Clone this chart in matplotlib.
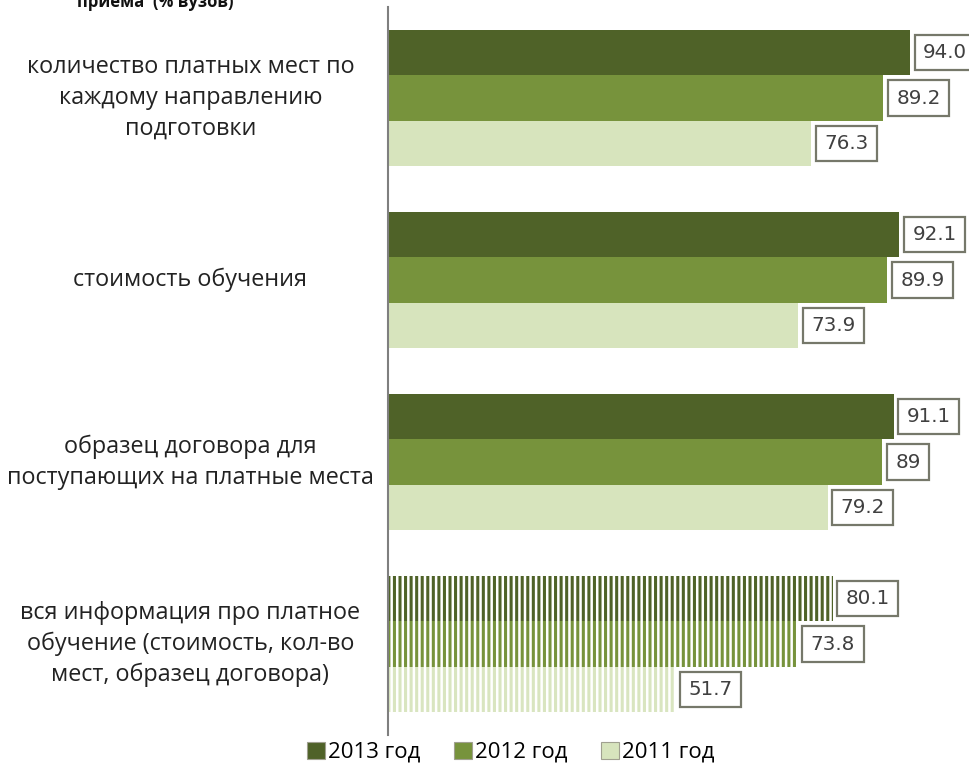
import numpy as np
import matplotlib
matplotlib.use("Agg")
import matplotlib.pyplot as plt
from matplotlib.patches import Patch

plt.rcParams['font.family'] = ['Open Sans', 'DejaVu Sans']
plt.rcParams['hatch.linewidth'] = 1.8

categories = ['количество платных мест по\nкаждому направлению\nподготовки',
              'стоимость обучения',
              'образец договора для\nпоступающих на платные места',
              'вся информация про платное\nобучение (стоимость, кол-во\nмест, образец договора)']
years = ['2013 год', '2012 год', '2011 год']
v2013 = [94.0, 92.1, 91.1, 80.1]
v2012 = [89.2, 89.9, 89.0, 73.8]
v2011 = [76.3, 73.9, 79.2, 51.7]
lab2013 = ['94.0', '92.1', '91.1', '80.1']
lab2012 = ['89.2', '89.9', '89', '73.8']
lab2011 = ['76.3', '73.9', '79.2', '51.7']

colors = ['#4f6228', '#77933c', '#d7e4bd']
hatch_colors = ['#4f6228', '#77933c', '#d9e5c0']

fig = plt.figure(figsize=(9.69, 7.7), dpi=100)
ax = fig.add_axes([388 / 969, 35 / 770, 555 / 969, 728 / 770])

y = np.arange(len(categories))
h = 0.25
series = [(v2013, lab2013), (v2012, lab2012), (v2011, lab2011)]
for k, (vals, labs) in enumerate(series):
    pos = y + (k - 1) * h
    for i in range(len(categories)):
        if i == 3:
            # последняя группа - штриховка вертикальными полосами
            ax.barh(pos[i], vals[i], height=h, color=hatch_colors[k],
                    edgecolor='white', hatch='|||', linewidth=0)
        else:
            ax.barh(pos[i], vals[i], height=h, color=colors[k], linewidth=0)
        ax.annotate(labs[i], (vals[i], pos[i]), xytext=(9.5, 0),
                    textcoords='offset points', ha='left', va='center',
                    fontsize=14.3, color='#404040', family='DejaVu Sans',
                    annotation_clip=False,
                    bbox=dict(boxstyle='square,pad=0.42', fc='white',
                              ec='#76786a', lw=1.6))

for i, c in enumerate(categories):
    ax.text(-0.356, i, c, transform=ax.get_yaxis_transform(), ha='center',
            va='center', multialignment='center', fontsize=16.8,
            color='#222222', linespacing=1.38)

ax.set_xlim(0, 100)
ax.set_ylim(3.5, -0.5)
ax.set_xticks([])
ax.set_yticks([])
for s in ['top', 'right', 'bottom']:
    ax.spines[s].set_visible(False)
ax.spines['left'].set_color('#7f7f7f')
ax.spines['left'].set_linewidth(1.5)

fig.text(155 / 969, 1 - 7 / 770, 'приема  (% вузов)', ha='center',
         va='baseline', fontsize=12, fontweight='bold', color='#111111')

handles = [Patch(facecolor=colors[k], edgecolor='#a0a090', lw=0.8) for k in range(3)]
fig.legend(handles, years, loc='center', bbox_to_anchor=(0.527, 0.023),
           ncol=3, frameon=False, fontsize=16, handlelength=0.8,
           handleheight=0.8, handletextpad=0.15, columnspacing=1.5)

fig.savefig('out.png', dpi=100)
